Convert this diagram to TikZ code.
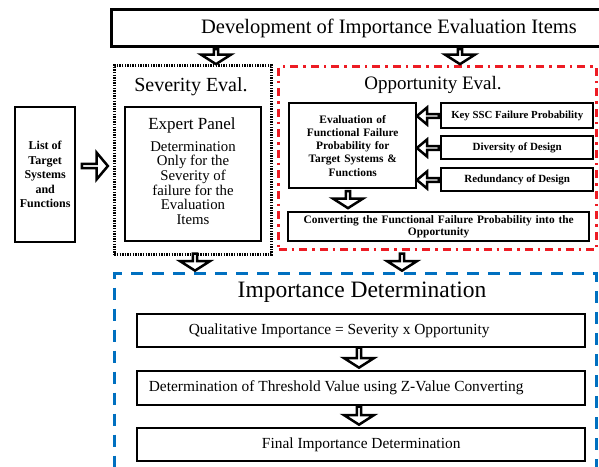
\documentclass[tikz,border=0pt]{standalone}
\usepackage{fontspec}
\setmainfont{Liberation Serif}
\usetikzlibrary{shapes.arrows}
\usepackage{xcolor}
\definecolor{oppred}{RGB}{237,28,36}
\definecolor{impblue}{RGB}{0,112,192}

\begin{document}
\begin{tikzpicture}[x=1pt,y=-1pt,
    box/.style={draw=black, line width=2.4pt, fill=white, inner sep=1pt,
      align=center, anchor=north west},
    blkdown/.style={single arrow, draw=black, line width=2.5pt, fill=white,
      minimum height=17pt, minimum width=30pt, single arrow head extend=8pt,
      single arrow tip angle=115, inner sep=0pt, shape border rotate=270},
    blkleft/.style={blkdown, shape border rotate=180, minimum height=22pt, minimum width=17pt,
      single arrow head extend=4.5pt, single arrow tip angle=80},
    blkright/.style={blkdown, shape border rotate=0, minimum height=26pt, minimum width=27pt,
      single arrow head extend=7pt, single arrow tip angle=100},
    frametitle/.style={font=\fontsize{20}{23}\selectfont}]
  \useasboundingbox (0,0) rectangle (599,466);
  %\draw[help lines,step=20] (0,0) grid (599,466); % Only for Development

  % outer frames
  \node[box, line width=3pt, minimum width=552pt, minimum height=37pt,
    font=\fontsize{20.5}{23}\selectfont] (dev) at (110,8)
    {\hspace*{3pt}Development of Importance Evaluation Items};

  \node[anchor=north west, draw=black, line width=2.6pt,
    dash pattern=on 1.4pt off 1.2pt,
    minimum width=157pt, minimum height=189pt] (sev) at (113,64) {};
  \node[frametitle] (sevtitle) at (191,87) {Severity Eval.};

  \node[anchor=north west, draw=oppred, line width=3pt,
    dash pattern=on 8pt off 5pt on 2.5pt off 5pt,
    minimum width=318pt, minimum height=183pt] (opp) at (277,65) {};
  \node[frametitle, font=\fontsize{19}{22}\selectfont] (opptitle) at (433,85) {Opportunity Eval.};

  \node[anchor=north west, draw=impblue, line width=3.2pt,
    dash pattern=on 12pt off 9pt,
    minimum width=482pt, minimum height=240pt] (imp) at (113,272) {};
  \node[font=\fontsize{23.5}{26}\selectfont] (imptitle) at (362,292) {Importance Determination};

  % left input
  \node[box, minimum width=60pt, minimum height=135pt,
    font=\fontsize{12}{14.5}\selectfont\bfseries] (list) at (14,106)
    {List of\\Target\\Systems\\and\\Functions};
  \node[blkright] (a0) at (94,166) {};

  % severity
  \node[box, minimum width=136pt, minimum height=134pt] (expert) at (124,106) {};
  \node[font=\fontsize{17}{19}\selectfont] (exptitle) at (192,125) {Expert Panel};
  \node[align=center, font=\fontsize{14.8}{14.6}\selectfont] (exptext) at (193,183)
    {Determination\\Only for the\\Severity of\\failure for the\\Evaluation\\Items};

  % opportunity
  \node[box, minimum width=127pt, minimum height=85pt, text width=122pt,
    font=\fontsize{11.4}{13.3}\selectfont\bfseries] (evalf) at (288,102)
    {Evaluation of\\Functional Failure\\Probability for\\Target Systems \&\\Functions};
  \node[box, minimum width=152pt, minimum height=25pt,
    font=\fontsize{10.8}{12}\selectfont\bfseries] (keyssc) at (440,102) {Key SSC Failure Probability};
  \node[box, minimum width=152pt, minimum height=23pt,
    font=\fontsize{11}{12}\selectfont\bfseries] (divers) at (440,135) {Diversity of Design};
  \node[box, minimum width=152pt, minimum height=23pt,
    font=\fontsize{11}{12}\selectfont\bfseries] (redund) at (440,167) {Redundancy of Design};
  \node[box, minimum width=301pt, minimum height=29pt, text width=297pt,
    font=\fontsize{11.4}{12.5}\selectfont\bfseries] (convert) at (287,211)
    {Converting the Functional Failure Probability into the\\Opportunity};

  \node[blkleft] (a1) at (429,116) {};
  \node[blkleft] (a2) at (429,148) {};
  \node[blkleft] (a3) at (429,180) {};
  \node[blkdown] (a4) at (348,199) {};

  % importance
  \node[box, minimum width=448pt, minimum height=33pt,
    font=\fontsize{15.4}{18}\selectfont] (qual) at (136,313)
    {Qualitative Importance = Severity x Opportunity\hspace*{44pt}};
  \node[box, minimum width=448pt, minimum height=34pt,
    font=\fontsize{15.4}{18}\selectfont] (thresh) at (136,370)
    {Determination of Threshold Value using Z-Value Converting\hspace*{50pt}};
  \node[box, minimum width=448pt, minimum height=33pt,
    font=\fontsize{15.4}{18}\selectfont] (final) at (136,427)
    {Final Importance Determination};

  % block arrows between stages
  \node[blkdown, minimum height=15pt] (b1) at (216,56) {};
  \node[blkdown, minimum height=15pt] (b2) at (460,56) {};
  \node[blkdown] (b3) at (195,261.5) {};
  \node[blkdown] (b4) at (402,261.5) {};
  \node[blkdown, minimum height=20pt] (b5) at (359,357) {};
  \node[blkdown, minimum height=18pt] (b6) at (359,415) {};
\end{tikzpicture}
\end{document}
